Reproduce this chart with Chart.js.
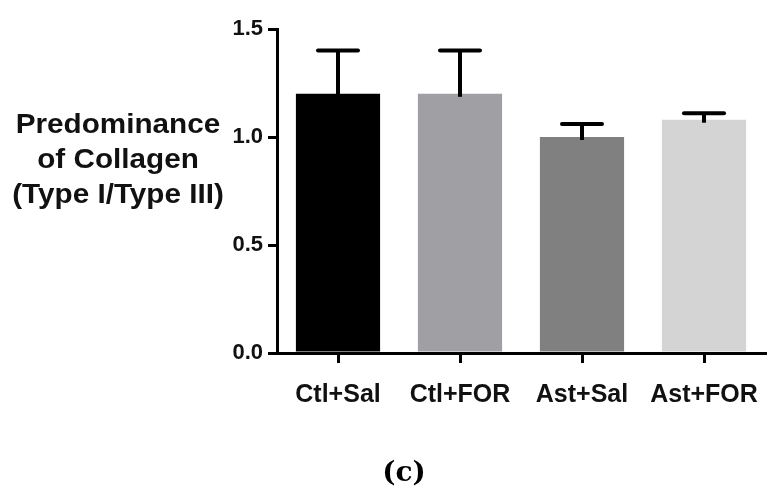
<!DOCTYPE html>
<html>
<head>
<meta charset="utf-8">
<script src="https://cdn.jsdelivr.net/npm/chart.js@4.4.0/dist/chart.umd.min.js"></script>
<style>
  html, body { margin: 0; padding: 0; background: #ffffff; }
  #wrap { width: 782px; height: 501px; position: relative; }
</style>
</head>
<body>
<div id="wrap"><canvas id="c" width="782" height="501"></canvas></div>
<script>
const categories = ['Ctl+Sal', 'Ctl+FOR', 'Ast+Sal', 'Ast+FOR'];
const meanValues = [1.20, 1.20, 1.00, 1.08];
const errorTops = [1.40, 1.40, 1.06, 1.11];
const yTicks = [0.0, 0.5, 1.0, 1.5];
const barColors = ['#000000', '#a0a0a4', '#808080', '#d4d4d4'];
const yTitleLines = ['Predominance', 'of Collagen', '(Type I/Type III)'];
const panelLabel = '(c)';

const errorBarPlugin = {
  id: 'errorBars',
  afterDatasetsDraw(chart) {
    const ctx = chart.ctx;
    const meta = chart.getDatasetMeta(0);
    const y = chart.scales.y;
    ctx.save();
    ctx.strokeStyle = '#000000';
    ctx.lineWidth = 4;
    meta.data.forEach((bar, i) => {
      const x = bar.x;
      const yTop = y.getPixelForValue(errorTops[i]);
      const yBase = y.getPixelForValue(meanValues[i]) + 3;
      ctx.lineCap = 'butt';
      ctx.beginPath();
      ctx.moveTo(x, yBase);
      ctx.lineTo(x, yTop);
      ctx.stroke();
      ctx.lineCap = 'round';
      ctx.beginPath();
      ctx.moveTo(x - 20, yTop);
      ctx.lineTo(x + 20, yTop);
      ctx.stroke();
    });
    ctx.restore();
  }
};

const textPlugin = {
  id: 'texts',
  afterDraw(chart) {
    const ctx = chart.ctx;
    ctx.save();
    ctx.fillStyle = '#111111';
    ctx.textAlign = 'center';
    ctx.textBaseline = 'alphabetic';
    ctx.font = 'bold 28px "Liberation Sans", Arial, sans-serif';
    const baselines = [133, 168, 203];
    yTitleLines.forEach((t, i) => {
      ctx.save();
      ctx.translate(118, baselines[i]);
      ctx.scale(1.06, 1);
      ctx.fillText(t, 0, 0);
      ctx.restore();
    });
    ctx.font = 'bold 28px "DejaVu Serif", serif';
    ctx.fillStyle = '#000000';
    ctx.fillText(panelLabel, 404, 481);
    ctx.restore();
  }
};

new Chart(document.getElementById('c'), {
  type: 'bar',
  data: {
    labels: categories,
    datasets: [{
      data: meanValues,
      backgroundColor: barColors,
      borderWidth: 0,
      barPercentage: 0.69,
      categoryPercentage: 1.0
    }]
  },
  options: {
    responsive: false,
    animation: false,
    devicePixelRatio: 1,
    layout: { padding: { left: 0, right: 17, top: 29, bottom: 0 } },
    plugins: { legend: { display: false }, tooltip: { enabled: false } },
    scales: {
      x: {
        offset: true,
        grid: { display: true, drawOnChartArea: false, drawTicks: true, offset: false, tickLength: 10, color: '#000000', lineWidth: 3 },
        border: { display: true, color: '#000000', width: 3 },
        ticks: { color: '#111111', font: { family: '"Liberation Sans", Arial, sans-serif', size: 25, weight: 'bold' }, padding: 17, maxRotation: 0 },
        afterFit(s) { s.height = 148; }
      },
      y: {
        min: 0,
        max: 1.5,
        afterBuildTicks(s) { s.ticks = yTicks.map(v => ({ value: v })); },
        grid: { display: true, drawOnChartArea: false, drawTicks: true, tickLength: 9, color: '#000000', lineWidth: 3 },
        border: { display: true, color: '#000000', width: 3 },
        ticks: { color: '#111111', font: { family: '"Liberation Sans", Arial, sans-serif', size: 22, weight: 'bold' }, padding: 5,
          callback: (v) => Number(v).toFixed(1) },
        afterFit(s) { s.width = 277; }
      }
    }
  },
  plugins: [errorBarPlugin, textPlugin]
});
</script>
</body>
</html>
